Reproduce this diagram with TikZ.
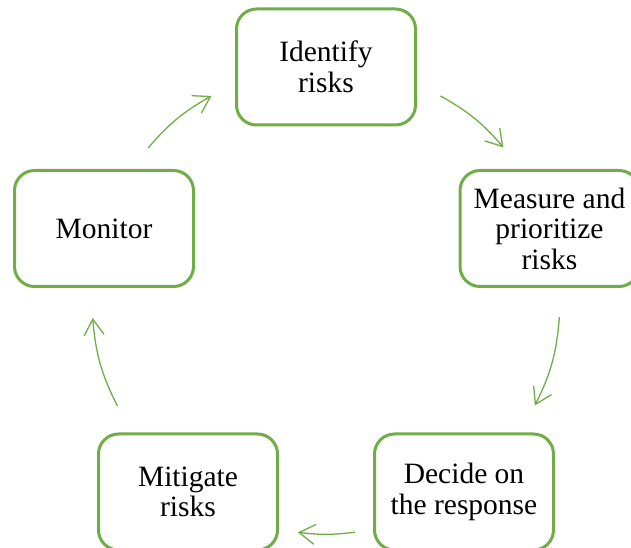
\documentclass[tikz,border=0pt]{standalone}
\usepackage{fontspec}
\setmainfont{Liberation Serif}
\usetikzlibrary{arrows.meta}

\definecolor{stepgreen}{RGB}{112,173,71}

\begin{document}
\begin{tikzpicture}[
    x=1pt, y=1pt,
    stagebox/.style={draw=stepgreen, line width=3pt, rounded corners=20pt,
        fill=white, minimum width=179pt, minimum height=116pt, align=center,
        font=\fontsize{29.5}{30.5}\selectfont},
    cyclearrow/.style={draw=stepgreen, line width=1.3pt,
        -{Straight Barb[length=16pt, width=20pt]}}
]

% ---------- Parameters ----------
\def\R{234}

\useasboundingbox (0,0) rectangle (631,548);

% ---------- Stages ----------
\node[stagebox] (identify) at (326,481) {Identify\\risks};
\node[stagebox] (measure)  at (549.5,319.5) {Measure and\\prioritize\\risks};
\node[stagebox] (decide)   at (464,56) {Decide on\\the response};
\node[stagebox] (mitigate) at (188,56) {Mitigate\\risks};
\node[stagebox] (monitor)  at (104,319.5) {Monitor};

% ---------- Arrow ends on the cycle ----------
\coordinate (ctr) at (326,248);

\coordinate (s1) at ([shift={(139.5:\R)}]ctr);
\coordinate (e1) at ([shift={(119.3:\R)}]ctr);
\coordinate (s2) at ([shift={(60.7:\R)}]ctr);
\coordinate (e2) at ([shift={(40.7:\R)}]ctr);
\coordinate (s3) at ([shift={(-4.2:\R)}]ctr);
\coordinate (e3) at ([shift={(-26.8:\R)}]ctr);
\coordinate (s4) at ([shift={(-82.9:\R)}]ctr);
\coordinate (e4) at ([shift={(-96.9:\R)}]ctr);
\coordinate (s5) at ([shift={(-153.1:\R)}]ctr);
\coordinate (e5) at ([shift={(-175.6:\R)}]ctr);

% ---------- Arrows ----------
\draw[cyclearrow] (s1) to[bend left=10] (e1);
\draw[cyclearrow] (s2) to[bend left=10] (e2);
\draw[cyclearrow] (s3) to[bend left=11] (e3);
\draw[cyclearrow] (s4) to[bend left=7] (e4);
\draw[cyclearrow] (s5) to[bend left=11] (e5);

\end{tikzpicture}
\end{document}
